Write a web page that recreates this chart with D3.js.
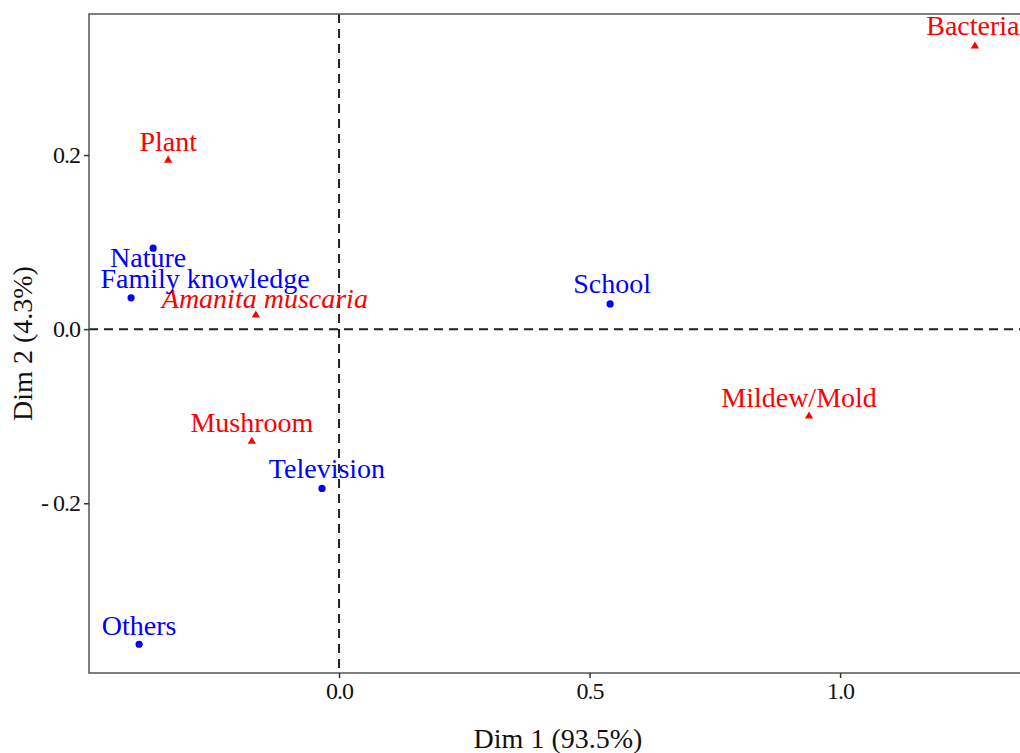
<!DOCTYPE html>
<html>
<head>
<meta charset="utf-8">
<script src="https://cdn.jsdelivr.net/npm/d3@7/dist/d3.min.js"></script>
<style>
  body { margin: 0; background: #fff; }
  text { font-family: "Liberation Serif", "DejaVu Serif", serif; }
</style>
</head>
<body>
<script>
// row categories (red triangles) and column categories (blue dots)
var rowNames = ["Bacteria", "Plant", "Amanita muscaria", "Mushroom", "Mildew/Mold"],
    rowDim1  = [1.269, -0.341, -0.166, -0.174, 0.938],
    rowDim2  = [0.325, 0.194, 0.016, -0.129, -0.100];

var colNames = ["Nature", "Family knowledge", "School", "Television", "Others"],
    colDim1  = [-0.371, -0.415, 0.541, -0.034, -0.399],
    colDim2  = [0.093, 0.036, 0.029, -0.183, -0.362];

var xTicks = [0.0, 0.5, 1.0],
    yTicks = [-0.2, 0.0, 0.2];

// label nudges (px) for the repelled labels
var nudge = {
  "Nature": [-5, 19],
  "Family knowledge": [74, -10],
  "Amanita muscaria": [9, -7],
  "Television": [5, -10],
  "School": [2, -11],
  "Mildew/Mold": [-10, -9],
  "Bacteria": [-2, -11]
};

var W = 1020, H = 753;
var pLeft = 89, pTop = 14, pRight = 1027, pBottom = 673;

var x = d3.scaleLinear().domain([-0.499, 1.373]).range([pLeft, pRight]);
var y = d3.scaleLinear().domain([-0.395, 0.362]).range([pBottom, pTop]);

var svg = d3.select("body").append("svg")
    .attr("width", W)
    .attr("height", H);

var rows = rowNames.map(function(n, i) { return {name: n, d1: rowDim1[i], d2: rowDim2[i], type: "row"}; });
var cols = colNames.map(function(n, i) { return {name: n, d1: colDim1[i], d2: colDim2[i], type: "col"}; });

// dashed reference lines
svg.append("line")
    .attr("x1", pLeft).attr("x2", pRight)
    .attr("y1", y(0)).attr("y2", y(0))
    .attr("stroke", "#222").attr("stroke-width", 2)
    .attr("stroke-dasharray", "9,6");
svg.append("line")
    .attr("x1", x(0)).attr("x2", x(0))
    .attr("y1", pTop).attr("y2", pBottom)
    .attr("stroke", "#222").attr("stroke-width", 2)
    .attr("stroke-dasharray", "9,6");

// panel border
svg.append("rect")
    .attr("x", pLeft).attr("y", pTop)
    .attr("width", pRight - pLeft).attr("height", pBottom - pTop)
    .attr("fill", "none").attr("stroke", "#555").attr("stroke-width", 1.5);

// x-axis
var gx = svg.append("g")
    .attr("transform", "translate(0," + pBottom + ")")
    .call(d3.axisBottom(x).tickValues(xTicks).tickFormat(d3.format(".1f")).tickSize(5).tickPadding(4));
gx.select(".domain").remove();
gx.selectAll(".tick line").attr("stroke", "#333").attr("stroke-width", 1.5);
gx.selectAll(".tick text")
    .attr("fill", "#111")
    .style("font-size", "24px")
    .style("font-family", "Liberation Serif")
    .attr("letter-spacing", "-1");

// y-axis
var gy = svg.append("g")
    .attr("transform", "translate(" + pLeft + ",0)")
    .call(d3.axisLeft(y).tickValues(yTicks).tickFormat(function(d) { return d < 0 ? "- " + d3.format(".1f")(-d) : d3.format(".1f")(d); }).tickSize(5).tickPadding(4));
gy.select(".domain").remove();
gy.selectAll(".tick line").attr("stroke", "#333").attr("stroke-width", 1.5);
gy.selectAll(".tick text")
    .attr("fill", "#111")
    .style("font-size", "24px")
    .style("font-family", "Liberation Serif")
    .attr("letter-spacing", "-1");

// axis titles
svg.append("text")
    .attr("x", (pLeft + pRight) / 2)
    .attr("y", 748)
    .attr("text-anchor", "middle")
    .style("font-size", "28px")
    .attr("fill", "#111")
    .text("Dim 1 (93.5%)");
svg.append("text")
    .attr("transform", "rotate(-90)")
    .attr("x", -(pTop + pBottom) / 2)
    .attr("y", 32)
    .attr("text-anchor", "middle")
    .style("font-size", "28px")
    .attr("fill", "#111")
    .text("Dim 2 (4.3%)");

// points
svg.selectAll(".dot")
    .data(cols)
  .enter().append("circle")
    .attr("class", "dot")
    .attr("r", 3.6)
    .attr("cx", function(d) { return x(d.d1); })
    .attr("cy", function(d) { return y(d.d2); })
    .attr("fill", "#0000ff");

svg.selectAll(".tri")
    .data(rows)
  .enter().append("path")
    .attr("class", "tri")
    .attr("d", d3.symbol().type(d3.symbolTriangle).size(30))
    .attr("transform", function(d) { return "translate(" + x(d.d1) + "," + y(d.d2) + ")"; })
    .attr("fill", "#ff0000");

// labels
svg.selectAll(".lab")
    .data(rows.concat(cols))
  .enter().append("text")
    .attr("class", "lab")
    .attr("x", function(d) { return x(d.d1) + (nudge[d.name] ? nudge[d.name][0] : 0); })
    .attr("y", function(d) { return y(d.d2) + (nudge[d.name] ? nudge[d.name][1] : -9); })
    .attr("text-anchor", "middle")
    .style("font-size", "28px")
    .style("font-style", function(d) { return d.name === "Amanita muscaria" ? "italic" : "normal"; })
    .attr("fill", function(d) { return d.type === "row" ? "#ff0000" : "#0000ff"; })
    .text(function(d) { return d.name; });
</script>
</body>
</html>
